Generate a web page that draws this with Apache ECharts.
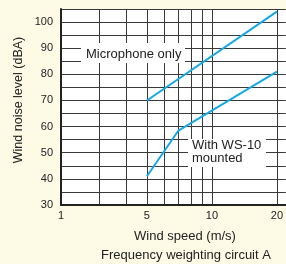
<!DOCTYPE html>
<html style="height: 100%">
<head>
    <meta charset="utf-8">
    <title>Wind noise level</title>
</head>
<body style="height: 100%; margin: 0; background: #fdfae6">
    <div id="container" style="width: 286px; height: 264px"></div>
    <script type="text/javascript" src="https://cdn.jsdelivr.net/npm/echarts@6/dist/echarts.min.js"></script>
    <script type="text/javascript">
        // data
        var micSpeed = [5, 20];
        var micLevel = [70, 104];
        var ws10Speed = [5, 7, 20];
        var ws10Level = [41, 58.5, 81];
        var xGridValues = [3, 4, 5, 6, 7, 8, 9, 10, 20];
        var xLabelValues = [2, 5, 10, 20];
        var xLabelText = { 2: '1', 5: '5', 10: '10', 20: '20' };

        function pairs(xs, ys) {
            return xs.map(function (x, i) { return [x, ys[i]]; });
        }

        var font = '"Liberation Sans", Arial, sans-serif';
        var ink = '#222';
        var gridColor = '#3a3a3a';
        var blue = '#14a9e6';

        var myChart = echarts.init(document.getElementById('container'));

        var option = {
            backgroundColor: '#fdfae6',
            animation: false,
            grid: { left: 61, right: 0, top: 9, bottom: 59, backgroundColor: '#fff', show: true, borderWidth: 0 },
            xAxis: {
                type: 'log',
                logBase: 10,
                min: 2,
                max: 22,
                axisLine: { show: true, lineStyle: { color: '#222', width: 2 } },
                axisTick: { show: false, customValues: xGridValues },
                axisLabel: {
                    customValues: xLabelValues,
                    margin: 5,
                    fontSize: 11,
                    fontFamily: font,
                    color: ink,
                    formatter: function (v) { return xLabelText[Math.round(v)]; }
                },
                splitLine: { show: true, lineStyle: { color: gridColor, width: 1 } }
            },
            yAxis: {
                type: 'value',
                min: 30,
                max: 105,
                interval: 5,
                axisLine: { show: true, lineStyle: { color: '#222', width: 2 } },
                axisTick: { show: false },
                axisLabel: {
                    margin: 8,
                    fontSize: 11,
                    fontFamily: font,
                    color: ink,
                    formatter: function (v) { return (v % 10 === 0 && v <= 100) ? v : ''; }
                },
                splitLine: { show: true, lineStyle: { color: gridColor, width: 1 } }
            },
            series: [
                {
                    name: 'Microphone only',
                    type: 'line',
                    data: pairs(micSpeed, micLevel),
                    symbol: 'none',
                    lineStyle: { color: blue, width: 2 },
                    z: 5
                },
                {
                    name: 'With WS-10 mounted',
                    type: 'line',
                    data: pairs(ws10Speed, ws10Level),
                    symbol: 'none',
                    lineStyle: { color: blue, width: 2 },
                    z: 5
                }
            ],
            graphic: [
                { type: 'rect', shape: { x: 81, y: 43, width: 104, height: 20 }, style: { fill: '#fff' }, z: 3 },
                { type: 'text', x: 86, y: 54, z: 4, style: { text: 'Microphone only', font: '13px ' + font, fill: ink, verticalAlign: 'middle' } },
                { type: 'rect', shape: { x: 188, y: 139, width: 78, height: 28 }, style: { fill: '#fff' }, z: 3 },
                { type: 'text', x: 192, y: 152, z: 4, style: { text: 'With WS-10\nmounted', font: '13px ' + font, fill: ink, lineHeight: 12.5, verticalAlign: 'middle' } },
                { type: 'text', x: 185, y: 236, z: 4, style: { text: 'Wind speed (m/s)', font: '13px ' + font, fill: ink, align: 'center', verticalAlign: 'middle' } },
                { type: 'text', x: 186, y: 255, z: 4, style: { text: 'Frequency weighting circuit A', font: '13px ' + font, fill: ink, align: 'center', verticalAlign: 'middle' } },
                { type: 'text', x: 19, y: 100, rotation: Math.PI / 2, z: 4, style: { text: 'Wind noise level (dBA)', font: '12.5px ' + font, fill: ink, align: 'center', verticalAlign: 'middle' } }
            ]
        };

        myChart.setOption(option);
        window.onresize = function () {
            myChart.resize();
        };
    </script>
</body>
</html>
